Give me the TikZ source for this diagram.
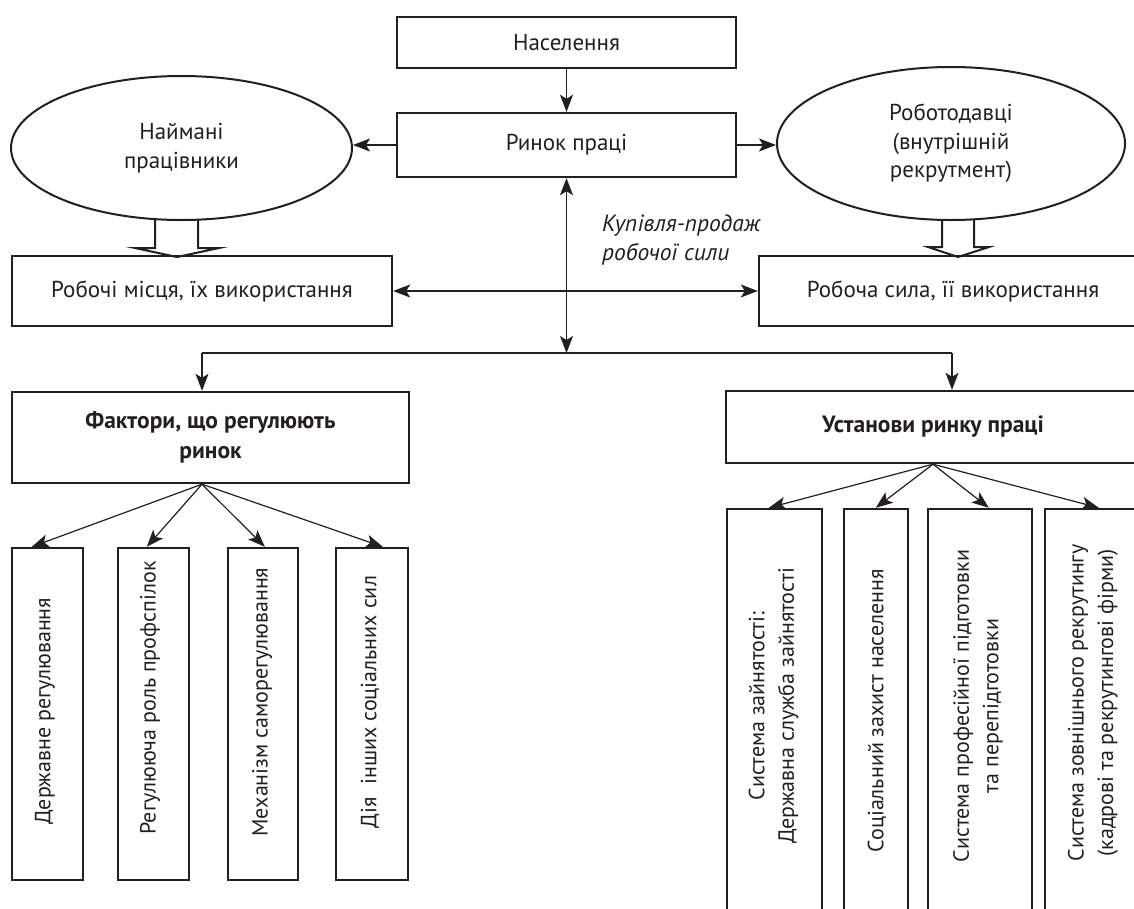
\documentclass[tikz,border=0pt]{standalone}
\usepackage{fontspec}
\setmainfont{PT Sans}
\usetikzlibrary{shapes.geometric,arrows.meta,calc}
\definecolor{ink}{HTML}{231F20}
\begin{document}
\begin{tikzpicture}[x=1pt,y=-1pt,
  every node/.style={font=\fontsize{23}{28.5}\selectfont, text=ink},
  box/.style={draw=ink, line width=2.4pt, rectangle, inner sep=0pt},
  oval/.style={draw=ink, line width=2pt, ellipse, inner sep=0pt, align=center},
  conn/.style={draw=ink, line width=1.2pt},
  tip/.style={conn, -{Stealth[length=17pt,width=13pt,inset=4pt]}},
  both/.style={conn, {Stealth[length=17pt,width=13pt,inset=4pt]}-{Stealth[length=17pt,width=13pt,inset=4pt]}},
  hollow/.style={draw=ink, line width=2pt, line join=miter},
  vtext/.style={rotate=90, align=center, inner sep=0pt, font=\fontsize{22}{29.5}\selectfont},
  bold/.style={font=\fontsize{23.5}{30}\selectfont\bfseries}
]
\path[use as bounding box, clip] (0,0) rectangle (1134,908);

% top boxes
\node[box, minimum width=339, minimum height=51] (nas) at (566.5,42.5) {Населення};
\node[box, minimum width=339, minimum height=64] (rynok) at (566.5,145) {Ринок праці};
\node[oval, minimum width=341, minimum height=144] (elL) at (181.5,148) {Наймані\\працівники};
\node[oval, minimum width=348, minimum height=153] (elR) at (951,143.5) {Роботодавці\\(внутрішній\\рекрутмент)};
\node[box, minimum width=380, minimum height=70] (mist) at (202,291) {Робочі місця, їх використання};
\node[box, minimum width=388, minimum height=70] (syla) at (953,291) {Робоча сила, її використання};
\node[font=\fontsize{23.5}{29}\selectfont\itshape, align=left, anchor=north west, inner sep=0pt] (kp) at (602,215) {Купівля-продаж\\робочої сили};

% middle boxes
\node[box, bold, align=center, minimum width=397, minimum height=91] (fakt) at (210.5,437.5) {Фактори, що регулюють\\ринок};
\node[box, bold, minimum width=414, minimum height=72] (ust) at (933,427) {Установи ринку праці};

% left small boxes
\node[box, minimum width=71, minimum height=332] (f1) at (47.5,714) {};
\node[box, minimum width=71, minimum height=332] (f2) at (153.5,714) {};
\node[box, minimum width=70, minimum height=332] (f3) at (263,714) {};
\node[box, minimum width=72, minimum height=332] (f4) at (372,714) {};
\node[vtext] (t1) at (45,711) {Державне регулювання};
\node[vtext] (t2) at (150,698) {Регулююча роль профспілок};
\node[vtext] (t3) at (262,702) {Механізм саморегулювання};
\node[vtext] (t4) at (370,702) {Дія\hspace{0.3em} інших соціальних сил};

% right small boxes
\node[box, minimum width=95, minimum height=451] (i1) at (774.5,734.5) {};
\node[box, minimum width=64, minimum height=451] (i2) at (876,734.5) {};
\node[box, minimum width=104, minimum height=451] (i3) at (980,734.5) {};
\node[box, minimum width=100, minimum height=451] (i4) at (1095,734.5) {};
\node[vtext] (u1) at (773.5,706) {Система зайнятості:\\Державна служба зайнятості};
\node[vtext] (u2) at (877,711) {Соціальний захист населення};
\node[vtext] (u3) at (978,706) {Система професійної підготовки\\та перепідготовки};
\node[vtext] (u4) at (1093,703) {Система зовнішнього рекрутингу\\(кадрові та рекрутингові фірми)};

% connectors
\draw[tip] (nas) -- (rynok);
\draw[tip] (rynok.west) -- (rynok.west -| elL.east);
\draw[tip] (rynok.east) -- (rynok.east -| elR.west);
\coordinate (hl) at (202,353);
\coordinate (hr) at (952,353);
\draw[both] (rynok.south) -- (rynok.south |- hl);
\draw[both] (mist.east) -- (syla.west);
\draw[conn] (hl) -- (hr);
\draw[tip] (hl) -- (hl |- fakt.north);
\draw[tip] (hr) -- (hr |- ust.north);

\coordinate (fo) at (fakt.south -| hl);
\draw[tip] (fo) -- ($(f1.north west)+(21,0)$);
\draw[tip] (fo) -- ($(f2.north west)+(30,0)$);
\draw[tip] (fo) -- ($(f3.north west)+(38,0)$);
\draw[tip] (fo) -- ($(f4.north west)+(48,0)$);

\draw[tip] (ust.south) -- ($(i1.north west)+(43,0)$);
\draw[tip] (ust.south) -- ($(i2.north west)+(33,0)$);
\draw[tip] (ust.south) -- ($(i3.north west)+(62,0)$);
\draw[tip] (ust.south) -- ($(i4.north west)+(55,0)$);

% hollow arrows
\draw[hollow] ($(elL.south)+(-26.5,-2)$) -- ++(0,29) -- ++(-20,0) -- ($(elL.south)+(-4.5,36)$) -- ($(elL.south)+(37.5,27)$) -- ++(-21,0) -- ++(0,-29);
\draw[hollow] ($(elR.south)+(-9,-1)$) -- ++(0,27) -- ++(-14,0) -- ($(elR.south)+(7,36)$) -- ($(elR.south)+(38,26)$) -- ++(-15,0) -- ++(0,-27);
\end{tikzpicture}
\end{document}
